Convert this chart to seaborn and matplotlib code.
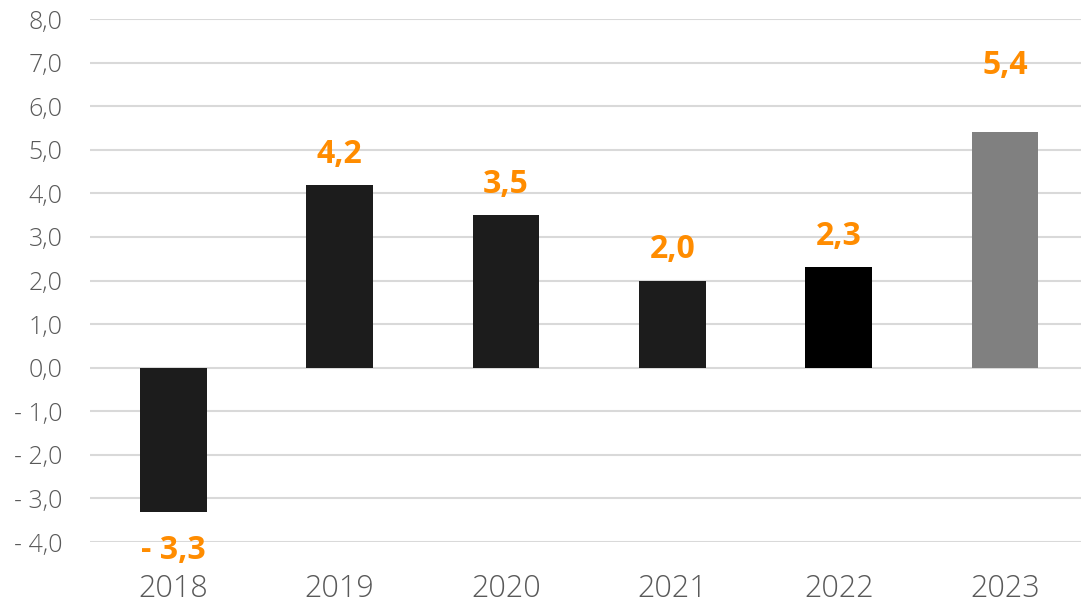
import matplotlib
matplotlib.use("Agg")
import matplotlib.pyplot as plt
from matplotlib.ticker import FuncFormatter, MultipleLocator
import seaborn as sns
import pandas as pd

years = ["2018", "2019", "2020", "2021", "2022", "2023"]
values = [-3.3, 4.2, 3.5, 2.0, 2.3, 5.4]
bar_colors = ["#1c1c1c", "#1c1c1c", "#1c1c1c", "#1c1c1c", "#000000", "#808080"]

df = pd.DataFrame({"year": years, "value": values})

sns.set_style("white")
plt.rcParams["font.family"] = ["Open Sans", "DejaVu Sans"]

fig = plt.figure(figsize=(10.81, 6.04), dpi=100)
ax = fig.add_axes([0.0833, 0.1026, 0.9235, 0.8659])

sns.barplot(data=df, x="year", y="value", hue="year", palette=bar_colors,
            width=0.4, legend=False, saturation=1, linewidth=0, ax=ax, zorder=3)

ax.set_ylim(-4, 8)
ax.yaxis.set_major_locator(MultipleLocator(1))


def fmt(v, pos):
    s = f"{abs(v):.1f}".replace(".", ",")
    return f"- {s}" if v < -1e-9 else s


ax.yaxis.set_major_formatter(FuncFormatter(fmt))
ax.grid(axis="y", color="#d9d9d9", linewidth=1.5, zorder=0)
ax.set_axisbelow(True)
for s in ax.spines.values():
    s.set_visible(False)

ax.tick_params(axis="y", length=0, pad=20, labelsize=18, labelcolor="#595959")
ax.tick_params(axis="x", length=0, pad=22, labelsize=22, labelcolor="#595959")
for lab in ax.get_yticklabels() + ax.get_xticklabels():
    lab.set_fontweight("light")
ax.set_xlabel("")
ax.set_ylabel("")

# value labels, offset in points from bar end
for i, v in enumerate(values):
    if v < 0:
        off = -28
    elif years[i] == "2023":
        off = 48
    else:
        off = 22
    lab = fmt(v, None)
    ax.annotate(lab, (i, v), xytext=(0, off), textcoords="offset points",
                ha="center", va="center", fontsize=23, fontweight="bold",
                color="#ff8c00", zorder=5)

fig.savefig("out.png", dpi=100)
